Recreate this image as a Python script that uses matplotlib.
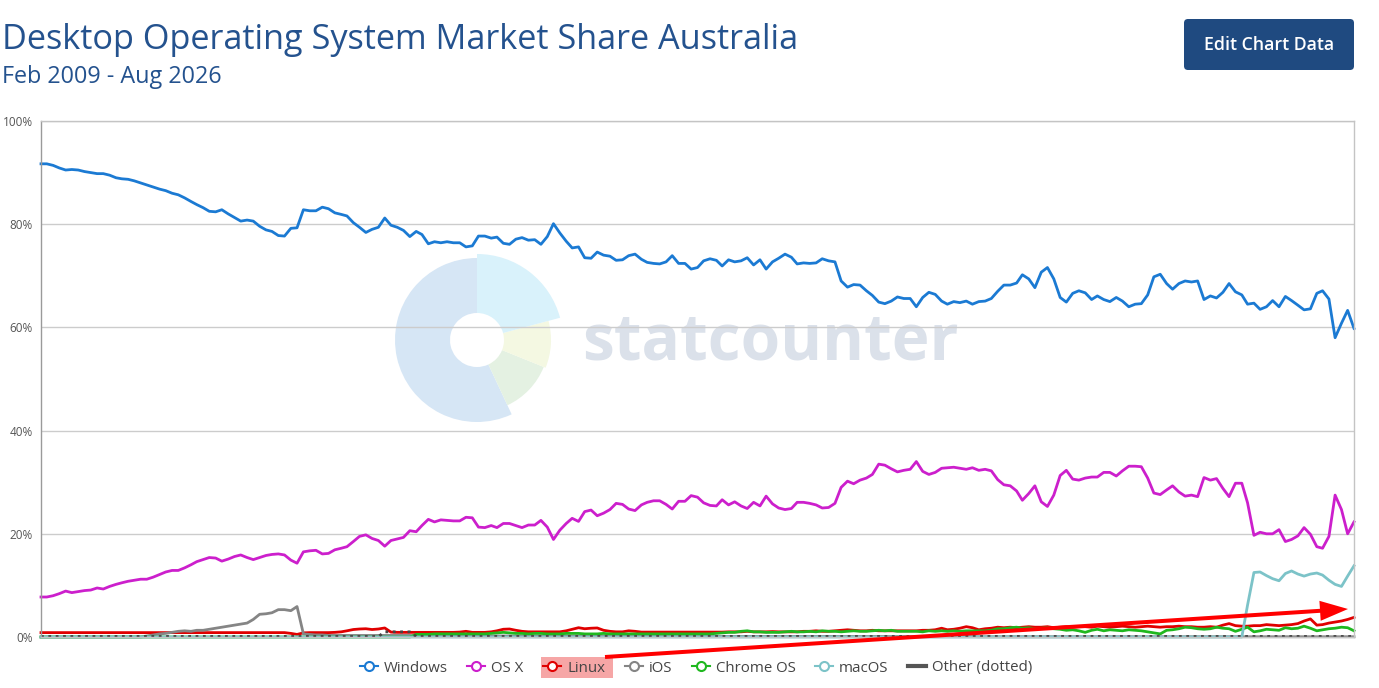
import matplotlib
matplotlib.use("Agg")
import matplotlib.pyplot as plt
import pandas as pd
from matplotlib.lines import Line2D
from matplotlib.patches import Wedge, FancyBboxPatch, FancyArrow, Rectangle

plt.rcParams["font.family"] = ["Open Sans", "DejaVu Sans"]

# Monthly market share (%), Feb 2009 - Aug 2026
months = pd.date_range("2009-02-01", "2026-08-01", freq="MS")

windows = [
    91.7, 91.7, 91.4, 90.9, 90.5, 90.6, 90.5, 90.2, 90.0, 89.8,
    89.8, 89.5, 89.0, 88.8, 88.7, 88.4, 88.0, 87.6, 87.2, 86.8,
    86.5, 86.0, 85.7, 85.1, 84.4, 83.8, 83.2, 82.5, 82.4, 82.8,
    82.0, 81.3, 80.6, 80.8, 80.6, 79.6, 78.9, 78.6, 77.8, 77.7,
    79.2, 79.3, 82.8, 82.6, 82.6, 83.3, 83.0, 82.2, 81.9, 81.6,
    80.3, 79.4, 78.4, 79.0, 79.4, 81.2, 79.8, 79.4, 78.8, 77.6,
    78.6, 78.0, 76.2, 76.6, 76.4, 76.6, 76.4, 76.4, 75.6, 75.8,
    77.7, 77.7, 77.3, 77.5, 76.3, 76.1, 77.1, 77.4, 76.9, 77.0,
    76.1, 77.6, 80.1, 78.3, 76.7, 75.4, 75.6, 73.5, 73.4, 74.6,
    74.0, 73.8, 73.0, 73.1, 73.9, 74.2, 73.2, 72.6, 72.4, 72.3,
    72.7, 73.9, 72.4, 72.4, 71.3, 71.6, 72.9, 73.3, 73.0, 71.9,
    73.1, 72.7, 72.9, 73.5, 72.1, 73.1, 71.3, 72.7, 73.4, 74.2,
    73.6, 72.3, 72.5, 72.4, 72.5, 73.3, 72.9, 72.7, 69.0, 67.8,
    68.3, 68.2, 67.1, 66.2, 64.9, 64.6, 65.1, 65.9, 65.6, 65.6,
    64.0, 65.8, 66.8, 66.4, 65.1, 64.5, 65.0, 64.8, 65.1, 64.5,
    65.0, 65.1, 65.6, 67.0, 68.2, 68.2, 68.6, 70.2, 69.4, 67.7,
    70.7, 71.6, 69.4, 65.8, 64.9, 66.6, 67.1, 66.7, 65.4, 66.1,
    65.4, 65.0, 65.8, 65.1, 64.0, 64.5, 64.6, 66.3, 69.8, 70.3,
    68.5, 67.4, 68.5, 69.0, 68.8, 69.0, 65.4, 66.1, 65.7, 66.8,
    68.5, 66.9, 66.3, 64.5, 64.7, 63.5, 64.0, 65.2, 64.0, 66.0,
    65.2, 64.3, 63.4, 63.6, 66.6, 67.1, 65.5, 58.0, 60.8, 63.3, 59.8,
]

osx = [
    7.75, 7.75, 8.0, 8.4, 8.9, 8.6, 8.8, 9.0, 9.1, 9.5,
    9.3, 9.8, 10.2, 10.5, 10.8, 11.0, 11.2, 11.2, 11.6, 12.1,
    12.6, 12.9, 12.9, 13.4, 14.0, 14.6, 15.0, 15.4, 15.3, 14.7,
    15.1, 15.6, 15.9, 15.4, 15.0, 15.4, 15.8, 16.0, 16.1, 15.9,
    14.9, 14.3, 16.5, 16.7, 16.8, 16.1, 16.2, 16.9, 17.2, 17.5,
    18.5, 19.5, 19.8, 19.1, 18.7, 17.6, 18.7, 19.0, 19.3, 20.6,
    20.4, 21.6, 22.8, 22.3, 22.7, 22.6, 22.5, 22.5, 23.2, 23.1,
    21.3, 21.2, 21.6, 21.2, 22.0, 22.0, 21.6, 21.2, 21.7, 21.7,
    22.6, 21.3, 18.9, 20.7, 22.0, 23.0, 22.4, 24.3, 24.6, 23.5,
    24.0, 24.7, 25.9, 25.7, 24.8, 24.5, 25.6, 26.1, 26.4, 26.4,
    25.7, 24.8, 26.3, 26.3, 27.4, 27.1, 26.0, 25.5, 25.4, 26.6,
    25.6, 26.2, 25.4, 24.9, 26.1, 25.4, 27.3, 25.8, 25.0, 24.7,
    24.9, 26.1, 26.1, 25.9, 25.6, 25.0, 25.1, 25.9, 29.0, 30.2,
    29.7, 30.4, 30.8, 31.5, 33.5, 33.3, 32.6, 32.0, 32.3, 32.5,
    34.0, 32.1, 31.5, 31.9, 32.7, 32.8, 32.9, 32.7, 32.5, 32.8,
    32.3, 32.5, 32.2, 30.5, 29.5, 29.3, 28.3, 26.5, 27.8, 29.3,
    26.2, 25.3, 27.5, 31.3, 32.3, 30.6, 30.4, 30.8, 31.0, 31.0,
    31.9, 31.9, 31.2, 32.2, 33.1, 33.1, 33.0, 30.8, 27.9, 27.6,
    28.5, 29.3, 28.1, 27.3, 27.5, 27.2, 30.9, 30.4, 30.7, 28.8,
    27.2, 29.8, 29.8, 26.0, 19.7, 20.3, 20.0, 20.0, 20.8, 18.5,
    18.9, 19.6, 21.2, 19.9, 17.5, 17.2, 19.5, 27.5, 24.7, 20.0, 22.3,
]

linux = [0.85] * 40 + [
    0.7, 0.5, 0.8, 0.85, 0.85, 0.85, 0.85, 0.9, 1.0, 1.2,
    1.45, 1.55, 1.6, 1.45, 1.55, 1.75, 0.95, 0.9, 0.9, 0.9,
    0.9, 0.9, 0.9, 0.9, 0.9, 0.9, 0.9, 0.95, 1.1, 0.9,
    0.9, 0.9, 1.0, 1.2, 1.5, 1.55, 1.3, 1.1, 1.0, 1.0,
    1.0, 1.0, 1.0, 1.0, 1.2, 1.5, 1.8, 1.6, 1.7, 1.75,
    1.3, 1.1, 1.0, 1.0, 1.2, 1.1, 0.95, 0.95, 0.95, 0.95,
    0.95, 0.95, 0.95, 0.95, 0.95, 0.95, 0.95, 0.95, 0.95, 0.95,
    1.0, 1.0, 1.0, 1.1, 1.0, 1.0, 1.0, 1.05, 1.0, 1.0,
    1.0, 1.0, 1.1, 1.1, 1.2, 1.1, 1.1, 1.2, 1.3, 1.4,
    1.3, 1.2, 1.2, 1.3, 1.2, 1.2, 1.2, 1.2, 1.2, 1.2,
    1.2, 1.3, 1.3, 1.4, 1.7, 1.4, 1.5, 1.7, 2.0, 1.8,
    1.4, 1.6, 1.7, 1.9, 1.8, 1.9, 1.8, 1.9, 2.0, 1.9,
    1.9, 2.0, 1.8, 1.9, 2.0, 1.9, 2.0, 2.0, 1.9, 2.1,
    2.0, 1.9, 2.0, 2.1, 2.0, 1.9, 2.0, 2.1, 2.0, 1.9,
    2.0, 2.0, 2.1, 2.0, 2.0, 1.9, 1.9, 2.0, 1.9, 2.3,
    2.6, 2.2, 2.1, 2.1, 2.2, 2.2, 2.4, 2.3, 2.2, 2.3,
    2.4, 2.6, 3.1, 3.5, 2.3, 2.4, 2.7, 2.9, 3.1, 3.4, 3.8,
]

ios = [0.0] * 17 + [
    0.2, 0.4, 0.6,
    0.7, 0.9, 1.1, 1.2, 1.1, 1.3, 1.3, 1.5, 1.7, 1.9,
    2.1, 2.3, 2.5, 2.7, 3.4, 4.4, 4.5, 4.7, 5.3, 5.3,
    5.1, 5.9, 0.6, 0.5, 0.4, 0.4, 0.3, 0.3, 0.3, 0.3,
] + [0.3] * 10 + [0.2] * 40 + [0.1] * 50 + [0.05] * 61

chrome_os = [0.0] * 60 + [
    0.5, 0.5, 0.5, 0.6, 0.6, 0.6, 0.6, 0.6, 0.6, 0.6,
    0.6, 0.6, 0.7, 0.8, 0.9, 0.8, 0.7, 0.7, 0.6, 0.7,
    0.7, 0.6, 0.6, 0.6, 0.7, 0.7, 0.7, 0.6, 0.6, 0.6,
    0.7, 0.6, 0.6, 0.6, 0.6, 0.6, 0.6, 0.6, 0.6, 0.6,
    0.6, 0.6, 0.6, 0.6, 0.6, 0.6, 0.6, 0.6, 0.7, 0.8,
    0.9, 0.9, 1.1, 1.2, 1.0, 1.0, 0.9, 0.9, 0.9, 1.0,
    1.1, 1.0, 1.0, 1.1, 1.0, 1.2, 1.1, 1.1, 1.0, 1.1,
    1.2, 1.1, 1.1, 1.2, 1.3, 1.2, 1.3, 1.1, 1.1, 1.1,
    1.1, 1.0, 1.2, 1.1, 1.2, 1.1, 1.2, 1.1, 1.2, 1.2,
    1.2, 1.2, 1.3, 1.6, 1.6, 1.8, 1.9, 1.7, 1.8, 1.6,
    1.7, 1.8, 1.6, 1.5, 1.3, 1.4, 1.2, 0.9, 1.3, 1.5,
    1.2, 1.4, 1.3, 1.2, 1.4, 1.3, 1.2, 1.0, 0.8, 0.6,
    1.3, 1.4, 1.6, 1.9, 1.8, 1.6, 1.5, 1.6, 1.9, 1.7,
    1.6, 1.1, 1.5, 1.9, 1.0, 1.2, 1.5, 1.4, 1.3, 1.8,
    1.6, 1.7, 2.1, 1.7, 1.2, 1.4, 1.6, 1.7, 1.9, 1.8, 1.2,
]

macos = [0.0] * 193 + [
    6.2, 12.5, 12.6, 11.9, 11.3, 10.9, 12.3, 12.8, 12.2, 11.8,
    12.2, 12.4, 12.0, 11.0, 10.2, 9.8, 11.8, 13.8,
]

other = [0.1] * 55 + [1.0] * 5 + [0.1] * 151

series = [
    ("Windows", windows, "#1b7ad3", "-"),
    ("OS X", osx, "#cc1fcc", "-"),
    ("Linux", linux, "#e00000", "-"),
    ("iOS", ios, "#858585", "-"),
    ("Chrome OS", chrome_os, "#1fb81f", "-"),
    ("macOS", macos, "#7cc3c8", "-"),
    ("Other (dotted)", other, "#444444", ":"),
]

W, H = 1379, 688
fig = plt.figure(figsize=(W / 100, H / 100), dpi=100, facecolor="white")

# background layer in pixel units (y down): watermark + legend highlight
bg = fig.add_axes([0, 0, 1, 1], zorder=0)
bg.set_xlim(0, W)
bg.set_ylim(H, 0)
bg.axis("off")

cx, cy = 477, 340
def wedge(a, b, r, color):
    # a, b: visual angles (deg, counter-clockwise); y axis is flipped
    bg.add_patch(Wedge((cx, cy), r, -b, -a, width=r - 27, facecolor=color, edgecolor="none"))

wedge(90, 295, 82, "#d6e6f5")
wedge(295, 338, 72, "#e4f1e2")
wedge(338, 375, 74, "#f4f8e2")
wedge(15, 90, 86, "#d9f2fb")
bg.text(770, 343, "statcounter", fontsize=46, fontweight="bold", color="#dbe1ea",
        ha="center", va="center")
bg.add_patch(Rectangle((541, 657), 72, 21, facecolor="#f6a6a6", edgecolor="none"))

# main chart
ax = fig.add_axes([41 / W, 51 / H, 1313 / W, 516 / H], zorder=1)
ax.patch.set_alpha(0)
for name, vals, color, ls in series:
    ax.plot(months, vals, color=color, lw=2.0, ls=ls, clip_on=False,
            solid_joinstyle="round")

ax.set_xlim(months[0], months[-1])
ax.set_ylim(0, 100)
ax.set_yticks([0, 20, 40, 60, 80, 100])
ax.set_yticklabels([f"{v}%" for v in [0, 20, 40, 60, 80, 100]])
ax.set_xticks([])
ax.tick_params(axis="y", length=0, pad=6, labelsize=8.5, labelcolor="#555555")
ax.grid(axis="y", color="#cccccc", lw=1)
ax.set_axisbelow(True)
for side, sp in ax.spines.items():
    sp.set_color("#c4c4c4")
    sp.set_linewidth(1)
ax.spines["left"].set_color("#9a9a9a")

# titles
fig.text(2 / W, 1 - 40 / H, "Desktop Operating System Market Share Australia",
         fontsize=24.7, color="#24528e", ha="left", va="center")
fig.text(2 / W, 1 - 77 / H, "Feb 2009 - Aug 2026",
         fontsize=16.8, color="#24528e", ha="left", va="center")

# foreground layer: button and arrow annotation
fg = fig.add_axes([0, 0, 1, 1], zorder=2)
fg.set_xlim(0, W)
fg.set_ylim(H, 0)
fg.axis("off")
fg.add_patch(FancyBboxPatch((1184, 19), 170, 51, boxstyle="round,pad=0,rounding_size=4",
                            facecolor="#1f4a80", edgecolor="none"))
fg.text(1269, 45, "Edit Chart Data", color="white", fontsize=12.8, fontweight="semibold",
        ha="center", va="center")
fg.add_patch(FancyArrow(605, 657, 743, -48, width=4, head_width=20, head_length=28,
                        length_includes_head=True, facecolor="#ff0000", edgecolor="none"))

# legend
handles = []
for name, vals, color, ls in series:
    if ls == ":":
        handles.append(Line2D([], [], color="#555555", lw=3))
    else:
        handles.append(Line2D([], [], color=color, lw=1.5, marker="o", markersize=6.5,
                              markerfacecolor="white", markeredgecolor=color,
                              markeredgewidth=1.5))
fig.legend(handles, [s[0] for s in series], loc="center",
           bbox_to_anchor=(696 / W, 20 / H), ncol=7, frameon=False,
           fontsize=10.8, labelcolor="#444444", handlelength=1.2,
           handletextpad=0.4, columnspacing=1.3)

fig.savefig("out.png", dpi=100, facecolor="white")
